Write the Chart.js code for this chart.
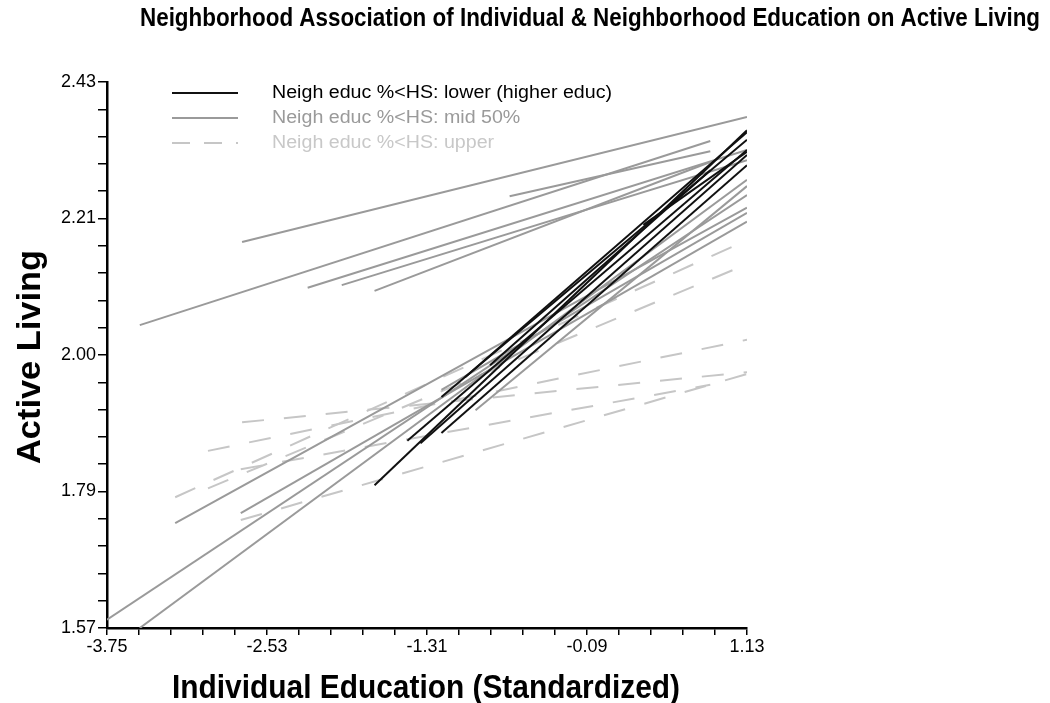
<!DOCTYPE html>
<html><head><meta charset="utf-8">
<script src="https://cdn.jsdelivr.net/npm/chart.js@4"></script>
<style>html,body{margin:0;padding:0;background:#fff}#wrap{width:1050px;height:703px;position:relative}</style>
</head><body><div id="wrap"><canvas id="c"></canvas></div>
<script>
const chartTitle = "Neighborhood Association of Individual & Neighborhood Education on Active Living";
const xAxisTitle = "Individual Education (Standardized)";
const yAxisTitle = "Active Living";
const seriesNames = ["Neigh educ %<HS: lower (higher educ)", "Neigh educ %<HS: mid 50%", "Neigh educ %<HS: upper"];
const xTickLabels = ["-3.75", "-2.53", "-1.31", "-0.09", "1.13"];
const yTickLabels = ["1.57", "1.79", "2.00", "2.21", "2.43"];
const xRange = [-3.75, 1.13];
const yRange = [1.57, 2.43];
// each segment: [x start, y start, x end, y end]
const lowerSegments = [
  [-1.71, 1.795, 1.13, 2.354],
  [-1.46, 1.865, 1.13, 2.323],
  [-1.36, 1.861, 1.13, 2.315],
  [-1.20, 1.877, 1.13, 2.299],
  [-1.20, 1.934, 1.13, 2.339],
  [-1.02, 1.965, 1.13, 2.351],
  [-0.83, 1.984, 0.85, 2.291],
  [0.34, 2.205, 1.13, 2.320]
];
const midSegments = [
  [-2.72, 2.178, 1.13, 2.375],
  [-3.50, 2.047, 0.85, 2.337],
  [-0.68, 2.250, 0.85, 2.321],
  [-2.22, 2.106, 1.13, 2.323],
  [-1.96, 2.110, 1.13, 2.307],
  [-1.71, 2.101, 0.85, 2.304],
  [-3.75, 1.583, 1.13, 2.252],
  [-3.50, 1.570, 1.13, 2.276],
  [-3.23, 1.735, 1.13, 2.232],
  [-2.73, 1.751, 1.13, 2.210],
  [-0.94, 1.913, 1.13, 2.266],
  [-1.20, 1.945, 1.13, 2.224]
];
const upperSegments = [
  [-2.72, 1.894, 1.13, 1.973],
  [-2.98, 1.849, 1.13, 2.024],
  [-3.23, 1.776, 1.13, 2.181],
  [-2.98, 1.790, 1.13, 2.143],
  [-2.73, 1.740, 1.13, 1.970],
  [-2.73, 1.820, 0.85, 1.953]
];

const groupStyles = [
  {color: '#111111', text: '#000000', dash: []},
  {color: '#9a9a9a', text: '#9a9a9a', dash: []},
  {color: '#c6c6c6', text: '#c8c8c8', dash: [22, 20]}
];
const groups = [lowerSegments, midSegments, upperSegments];
const datasets = [];
groups.forEach((segs, g) => {
  segs.forEach(s => {
    datasets.push({
      label: seriesNames[g],
      data: [{x: s[0], y: s[1]}, {x: s[2], y: s[3]}],
      borderColor: groupStyles[g].color,
      borderWidth: 2,
      borderDash: groupStyles[g].dash,
      pointRadius: 0,
      fill: false,
      tension: 0
    });
  });
});

const FONT = "'Liberation Sans', Arial, sans-serif";

function fitText(ctx, text, x, y, width, font, align) {
  ctx.font = font;
  const w = ctx.measureText(text).width;
  ctx.save();
  ctx.translate(x, y);
  ctx.scale(width / w, 1);
  ctx.textAlign = align;
  ctx.fillText(text, 0, 0);
  ctx.restore();
}

function nTicks(min, max) {
  return Array.from({length: 21}, (_, i) => ({value: min + i * (max - min) / 20}));
}

const textPlugin = {
  id: 'texts',
  afterDraw(chart) {
    const ctx = chart.ctx;
    ctx.save();
    ctx.fillStyle = '#000';
    ctx.textBaseline = 'middle';
    fitText(ctx, chartTitle, 590, 19, 900, "bold 25px " + FONT, 'center');
    fitText(ctx, xAxisTitle, 426, 689, 508, "bold 34px " + FONT, 'center');
    ctx.save();
    ctx.translate(31, 357);
    ctx.rotate(-Math.PI / 2);
    fitText(ctx, yAxisTitle, 0, 0, 214, "bold 34px " + FONT, 'center');
    ctx.restore();
    // legend
    seriesNames.forEach((name, i) => {
      const y = 93 + i * 25;
      ctx.beginPath();
      ctx.strokeStyle = groupStyles[i].color;
      ctx.lineWidth = 2;
      ctx.setLineDash(groupStyles[i].dash.length ? [18, 14] : []);
      ctx.moveTo(172, y);
      ctx.lineTo(238, y);
      ctx.stroke();
      ctx.setLineDash([]);
      ctx.fillStyle = groupStyles[i].text;
      ctx.font = "18px " + FONT;
      const full = ctx.measureText(seriesNames[0]).width;
      const w = ctx.measureText(name).width * 340 / full;
      fitText(ctx, name, 272, y, w, "18px " + FONT, 'left');
    });
    ctx.restore();
  }
};

new Chart(document.getElementById('c'), {
  type: 'line',
  data: {datasets},
  options: {
    responsive: true,
    maintainAspectRatio: false,
    animation: false,
    devicePixelRatio: 1,
    layout: {padding: {left: 0, top: 82, right: 303, bottom: 0}},
    plugins: {legend: {display: false}, title: {display: false}, tooltip: {enabled: false}},
    scales: {
      x: {
        type: 'linear', min: xRange[0], max: xRange[1],
        afterBuildTicks: s => { s.ticks = nTicks(xRange[0], xRange[1]); },
        afterFit: s => { s.height = 75; },
        ticks: {autoSkip: false, maxRotation: 0, minRotation: 0, color: '#000', padding: 1,
          font: {family: FONT, size: 18},
          callback: (v, i) => (i % 5 === 0 ? xTickLabels[i / 5] : '')},
        grid: {drawOnChartArea: false, drawTicks: true, tickLength: 7, color: '#000', lineWidth: 1.5},
        border: {display: true, color: '#000', width: 2.5}
      },
      y: {
        type: 'linear', min: yRange[0], max: yRange[1],
        afterBuildTicks: s => { s.ticks = nTicks(yRange[0], yRange[1]); },
        afterFit: s => { s.width = 107; },
        ticks: {autoSkip: false, color: '#000', padding: 2,
          font: {family: FONT, size: 18},
          callback: (v, i) => (i % 5 === 0 ? yTickLabels[i / 5] : '')},
        grid: {drawOnChartArea: false, drawTicks: true, tickLength: 9, color: '#000', lineWidth: 1.5},
        border: {display: true, color: '#000', width: 2.5}
      }
    }
  },
  plugins: [textPlugin]
});
</script></body></html>
